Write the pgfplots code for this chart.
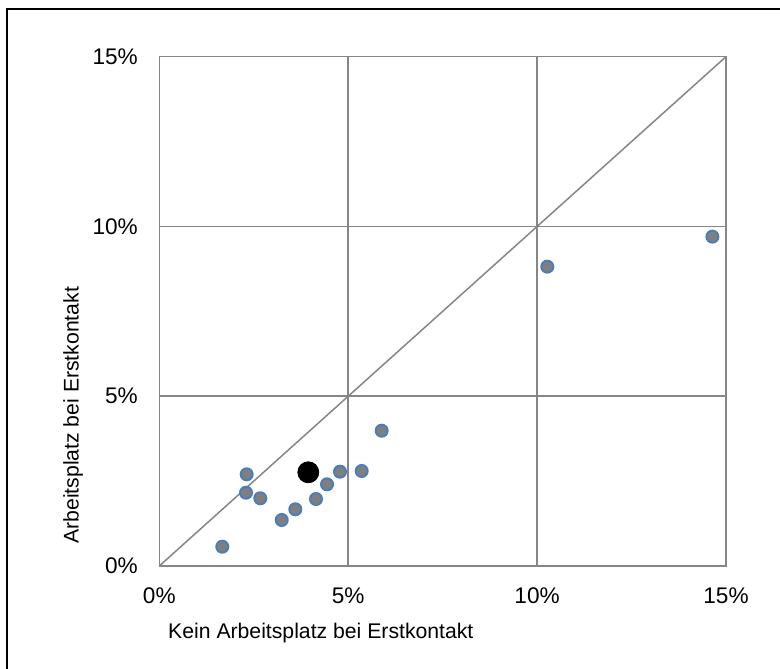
\documentclass[border=0pt]{standalone}
\usepackage{pgfplots}
\pgfplotsset{compat=1.18}
\usepackage{fontspec}
\setmainfont{Liberation Sans}
\definecolor{gridgray}{HTML}{868686}
\definecolor{ptfill}{HTML}{7F7F7F}
\definecolor{ptedge}{HTML}{4A7EBB}

\begin{document}
\begin{tikzpicture}
\fontsize{10.7}{12.8}\selectfont
\path[use as bounding box] (-79.65pt,-51pt) rectangle (310.35pt,283pt);
\draw[line width=1pt] (-76.15pt,-60pt) -- (-76.15pt,278.5pt) -- (320pt,278.5pt);
\begin{axis}[
    at={(0,0)}, anchor=south west,
    scale only axis,
    width=283.35pt, height=254.65pt,
    xmin=0, xmax=15, ymin=0, ymax=15,
    xtick={0,5,10,15}, ytick={0,5,10,15},
    xticklabels={0\%,5\%,10\%,15\%},
    yticklabels={0\%,5\%,10\%,15\%},
    major tick length=0pt,
    grid=major,
    grid style={gridgray, line width=0.75pt},
    axis line style={gridgray, line width=0.75pt},
    ticklabel style={font=\fontsize{11.3}{13.5}\selectfont},
    yticklabel style={xshift=-7pt},
    xticklabel style={yshift=-7pt},
    xlabel={Kein Arbeitsplatz bei Erstkontakt},
    ylabel={Arbeitsplatz bei Erstkontakt},
    label style={font=\fontsize{10.6}{12.8}\selectfont},
    xlabel style={at={(axis description cs:0.285,-0.1316)}, anchor=center},
    ylabel style={at={(axis description cs:-0.152,0.296)}, anchor=center, rotate=0},
    clip=false,
]
\addplot[gridgray, line width=0.75pt, no marks] coordinates {(0,0) (15,15)};
\addplot[only marks, mark=*, mark size=3pt,
    mark options={fill=ptfill, draw=ptedge, line width=1pt}] coordinates {
    (1.667,0.568) (2.313,2.70) (2.295,2.159) (2.673,1.994) (3.24,1.355)
    (3.60,1.67) (4.148,1.973) (4.439,2.406) (4.783,2.778) (5.357,2.798)
    (5.887,3.985) (10.27,8.816) (14.64,9.70)
};
\addplot[only marks, mark=*, mark size=5.25pt, mark options={fill=black, draw=black}]
    coordinates {(3.944,2.76)};
\end{axis}
\end{tikzpicture}
\end{document}
